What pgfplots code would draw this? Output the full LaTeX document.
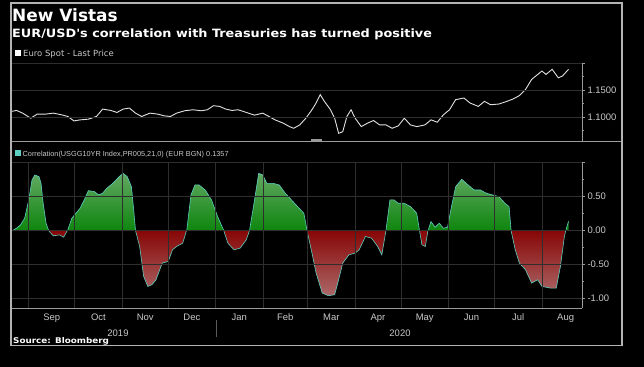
\documentclass[border=0pt]{standalone}
\usepackage{pgfplots}
\usepackage{pgfplotstable}
\pgfplotsset{compat=1.18}
\usepackage{fontspec}
\setmainfont{Liberation Sans}
\newfontfamily\dvb{DejaVu Sans Bold}
\newfontfamily\dvbw{DejaVu Sans Bold}[FakeStretch=1.12]
\newfontfamily\dvs{DejaVu Sans}
\definecolor{framegrey}{HTML}{B4B4B4}
\definecolor{gridgrey}{HTML}{2E2E2E}
\definecolor{sepgrey}{HTML}{5A5A5A}
\definecolor{axgrey}{HTML}{9A9A9A}
\definecolor{labgrey}{HTML}{C8C8C8}
\definecolor{corrline}{HTML}{5CCFC0}
\definecolor{gtop}{HTML}{62A862}
\definecolor{gbot}{HTML}{0E860E}
\definecolor{rtop}{HTML}{870606}
\definecolor{rbot}{HTML}{AC6868}

\pgfplotstableread{
d v
-11.6 1.1106
-8.0 1.1125
-4.0 1.1075
1.3 1.0981
5.4 1.1056
10.7 1.1056
16.1 1.1075
21.4 1.1044
25.5 1.1013
29.5 1.0931
33.5 1.0950
38.9 1.0963
44.2 1.1013
48.2 1.1150
53.6 1.1125
57.6 1.1088
61.6 1.1150
65.7 1.1169
69.7 1.1075
73.7 1.1013
79.1 1.1075
84.4 1.1056
88.4 1.1025
92.5 1.1013
96.5 1.1075
101.8 1.1119
107.2 1.1138
112.6 1.1119
116.6 1.1138
120.6 1.1213
124.6 1.1200
128.6 1.1150
132.7 1.1125
136.7 1.1138
142.0 1.1088
147.4 1.1038
152.8 1.1075
156.8 1.1013
160.8 1.0950
166.2 1.0888
170.2 1.0825
172.9 1.0794
176.9 1.0856
180.9 1.0981
184.9 1.1138
187.6 1.1263
190.3 1.1419
193.0 1.1294
197.0 1.1138
199.7 1.0981
202.3 1.0700
205.0 1.0731
207.7 1.1013
210.4 1.1138
213.1 1.0981
217.1 1.0825
221.1 1.0888
225.1 1.0938
229.1 1.0856
233.2 1.0856
237.2 1.0794
241.2 1.0838
245.2 1.0981
249.2 1.0856
253.3 1.0825
258.6 1.0856
262.6 1.0950
266.7 1.0906
270.7 1.1044
274.7 1.1138
278.7 1.1325
284.1 1.1356
288.1 1.1263
293.5 1.1200
297.5 1.1294
301.5 1.1231
306.9 1.1244
312.2 1.1294
316.2 1.1338
320.3 1.1400
324.3 1.1513
328.3 1.1700
332.3 1.1794
335.0 1.1856
337.7 1.1794
341.7 1.1888
345.7 1.1731
348.4 1.1763
352.4 1.1888
}\eurusd

\pgfplotstableread{
d v
-11.6 -0.015
-10.5 0.000
-8.0 0.034
-5.4 0.083
-2.7 0.181
0.0 0.451
2.1 0.745
4.0 0.819
6.7 0.794
8.0 0.696
9.4 0.402
11.3 0.108
13.0 0.000
13.4 -0.015
16.1 -0.078
20.1 -0.064
22.8 -0.098
25.2 0.000
25.5 0.010
28.1 0.181
30.8 0.255
33.5 0.328
36.2 0.451
38.9 0.588
42.9 0.574
45.6 0.525
48.2 0.549
50.9 0.623
54.9 0.696
59.0 0.794
61.6 0.843
64.3 0.794
67.0 0.647
68.3 0.353
69.7 0.000
72.4 -0.235
75.0 -0.676
77.7 -0.824
80.4 -0.799
83.1 -0.725
87.1 -0.480
91.1 -0.456
93.8 -0.284
96.5 -0.235
100.5 -0.186
103.0 0.000
103.2 0.010
105.9 0.525
108.5 0.672
111.2 0.672
115.2 0.598
119.3 0.451
123.3 0.206
127.3 0.000
130.0 -0.186
134.0 -0.284
138.0 -0.260
142.0 -0.137
144.1 0.000
144.2 0.010
147.4 0.451
150.1 0.843
152.8 0.819
155.4 0.696
159.5 0.696
163.5 0.672
167.5 0.549
171.5 0.451
175.5 0.353
179.6 0.255
181.7 0.000
184.9 -0.333
187.6 -0.627
191.6 -0.922
195.6 -0.961
199.7 -0.946
202.3 -0.725
205.0 -0.480
209.0 -0.358
213.1 -0.333
215.7 -0.284
219.8 -0.088
223.8 -0.113
227.8 -0.235
230.5 -0.358
233.2 0.000
235.8 0.451
238.5 0.451
241.2 0.402
245.2 0.402
249.2 0.353
253.3 0.255
255.1 0.000
256.7 -0.211
258.9 -0.235
260.5 -0.015
260.7 0.000
262.6 0.132
265.3 0.049
268.0 0.108
270.7 0.034
273.4 0.049
276.0 0.353
278.7 0.647
282.7 0.755
286.8 0.672
290.8 0.598
294.8 0.598
298.8 0.549
302.8 0.525
306.9 0.500
310.9 0.402
313.6 0.353
314.9 0.000
317.6 -0.284
320.3 -0.480
324.3 -0.578
328.3 -0.775
332.3 -0.725
335.0 -0.824
340.4 -0.848
344.4 -0.848
347.1 -0.529
349.7 -0.088
350.6 0.000
352.4 0.136
}\corr

\pgfplotsset{
  panel/.style={
    scale only axis, width=571bp, xmin=-11.6, xmax=361.2,
    axis on top,
    axis line style={axgrey, line width=0.8bp},
    grid style={gridgrey, line width=0.6bp},
    ymajorgrids,
    tick style={axgrey, line width=0.6bp},
    major tick length=3bp, minor tick length=2bp,
    tick align=outside,
    yticklabel style={font=\fontsize{9.5}{10}\selectfont, text=labgrey, anchor=west, xshift=-1bp},
    xticklabel style={font=\fontsize{9.5}{10}\selectfont, text=labgrey},
  }
}

\begin{document}
\begin{tikzpicture}
\fill[black] (0bp,0bp) rectangle (644bp,367bp);

% ---------- top panel ----------
\begin{axis}[panel, at={(11bp,226bp)}, anchor=south west, height=77.7bp,
  ymin=1.0558, ymax=1.2,
  axis x line=none, axis y line*=right,
  xtick={0,30,61,91,122,153,182,213,243,274,304,335}, xmajorgrids,
  ytick={1.10,1.15,1.20}, yticklabels={1.1000,1.1500,},
  minor ytick={1.075,1.125,1.175},
]
\addplot[draw={rgb,255:red,225;green,225;blue,225}, line width=0.9bp] table[x=d,y=v]{\eurusd};
\end{axis}

% ---------- bottom panel ----------
\begin{axis}[panel, at={(11bp,59bp)}, anchor=south west, height=145.3bp,
  ymin=-1.142, ymax=1.0,
  axis x line*=bottom, axis y line*=right,
  xtick={15,45.5,76,106.5,137.5,167.5,197.5,228,258.5,289,319.5,350.5},
  xticklabels={Sep,Oct,Nov,Dec,Jan,Feb,Mar,Apr,May,Jun,Jul,Aug},
  x tick style={draw=none},
  extra x ticks={0,30,61,91,122,153,182,213,243,274,304,335},
  extra x tick labels={},
  extra x tick style={grid=major, tick style={axgrey, line width=0.6bp}},
  ytick={-1,-0.5,0,0.5,1}, yticklabels={-1.00,-0.50,0.00,0.50,},
  minor ytick={-0.75,-0.25,0.25,0.75},
  xticklabel style={yshift=1bp},
]
\addplot[draw=none, top color=gtop, bottom color=gbot]
  table[x=d, y expr={max(\thisrow{v},0)}]{\corr} \closedcycle;
\addplot[draw=none, top color=rtop, bottom color=rbot]
  table[x=d, y expr={min(\thisrow{v},0)}]{\corr} \closedcycle;
\addplot[draw=corrline, line width=0.6bp] table[x=d,y=v]{\corr};
\end{axis}

% separator between panels
\draw[axgrey, line width=0.8bp] (11bp,226bp) -- (622bp,226bp);
\draw[axgrey, line width=1.2bp] (311bp,227bp) -- (322bp,227bp);

% year labels
\node[font=\fontsize{9.5}{10}\selectfont, text=labgrey] at (118bp,34bp) {2019};
\node[font=\fontsize{9.5}{10}\selectfont, text=labgrey] at (400bp,34bp) {2020};
\draw[sepgrey, line width=0.6bp] (216bp,30bp) -- (216bp,47bp);

% legends
\fill[white] (15bp,311bp) rectangle (20.5bp,316.5bp);
\node[anchor=base west, inner sep=0, font=\dvs\fontsize{8.5}{9}\selectfont, text=labgrey] at (23bp,310.5bp) {Euro Spot - Last Price};
\fill[corrline] (15bp,211bp) rectangle (20.5bp,216.5bp);
\node[anchor=base west, inner sep=0, font=\fontsize{7.35}{9}\selectfont, text=labgrey] at (22.5bp,210.5bp) {Correlation(USGG10YR Index,PR005,21,0) (EUR BGN) 0.1357};

% titles
\node[anchor=base west, inner sep=0, font=\dvb\fontsize{17}{20}\selectfont, text=white] at (12bp,345.3bp) {New Vistas};
\node[anchor=base west, inner sep=0, font=\dvbw\fontsize{11.5}{13}\selectfont, text=white] at (12bp,329.7bp) {EUR/USD's correlation with Treasuries has turned positive};
\node[anchor=base west, inner sep=0, font=\dvbw\fontsize{7.9}{9}\selectfont, text=white] at (13bp,23.5bp) {Source: Bloomberg};

% outer frame
\draw[framegrey, line width=1.2bp] (11bp,21.5bp) rectangle (622bp,364bp);
\end{tikzpicture}
\end{document}
